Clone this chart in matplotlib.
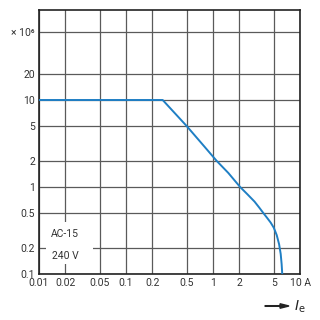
import matplotlib
matplotlib.use('Agg')
from matplotlib import pyplot as plt
from matplotlib.patches import Rectangle, FancyArrow

# values (current in A, switching cycles x 10^6)
current = [0.01, 0.264, 0.5, 0.8, 1.1, 1.5, 2.05, 2.5, 3.0, 3.4, 3.8, 4.2,
           4.6, 5.0, 5.4, 5.75, 6.0, 6.15, 6.25]
cycles = [10, 10, 5, 2.9, 2, 1.45, 1, 0.82, 0.68, 0.58, 0.5, 0.44,
          0.39, 0.34, 0.28, 0.22, 0.17, 0.13, 0.1]

x_ticks = [0.01, 0.02, 0.05, 0.1, 0.2, 0.5, 1, 2, 5, 10]
x_labels = ['0.01', '0.02', '0.05', '0.1', '0.2', '0.5', '1', '2', '5', '10 A']
y_ticks = [0.1, 0.2, 0.5, 1, 2, 5, 10, 20, 60]
y_labels = ['0.1', '0.2', '0.5', '1', '2', '5', '10', '20', '× 10⁶']

plt.rcParams['font.family'] = ['Roboto', 'DejaVu Sans']

fig = plt.figure(figsize=(3.2, 3.2), dpi=100)
ax = fig.add_axes([39/320, 1 - 274/320, 261/320, 264/320])

ax.set_xscale('log')
ax.set_yscale('log')
ax.set_xlim(0.01, 10)
ax.set_ylim(0.1, 0.1 * 10**(264/87))

ax.set_xticks(x_ticks)
ax.set_xticklabels(x_labels)
ax.set_yticks(y_ticks)
ax.set_yticklabels(y_labels)
ax.minorticks_off()
ax.tick_params(length=0, labelsize=7.5, colors='#333333', pad=3)

ax.grid(True, color='#5a5a5a', lw=0.9)
for s in ax.spines.values():
    s.set_color('#222222')
    s.set_linewidth(1.2)

ax.plot(current, cycles, color='#1f7fc4', lw=1.4, zorder=3)

# white patch behind the label
ax.add_patch(Rectangle((0.027, 0.038), 0.18, 0.159, transform=ax.transAxes,
                       fc='white', ec='none', zorder=2))
ax.text(0.1, 0.152, 'AC-15', transform=ax.transAxes, ha='center', va='center',
        fontsize=7.5, color='#333333', zorder=4)
ax.text(0.1, 0.068, '240 V', transform=ax.transAxes, ha='center', va='center',
        fontsize=7.5, color='#333333', zorder=4)

# arrow + I_e
fig.text(300/320, 1 - 307/320, '$I_\\mathrm{e}$', ha='center', va='center',
         fontsize=10, color='#222222')
fig.patches.append(FancyArrow(
    265/320, 1 - 306/320, 24/320, 0, width=0.002, head_width=0.014,
    head_length=0.028, length_includes_head=True, color='#222222',
    transform=fig.transFigure, figure=fig))

fig.savefig('out.png', dpi=100)
